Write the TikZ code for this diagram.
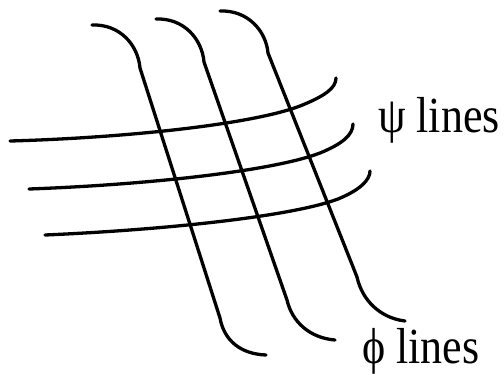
\documentclass[tikz,border=0pt]{standalone}
\usepackage{fontspec}
\setmainfont{Liberation Serif}
\begin{document}
\begin{tikzpicture}[x=1pt,y=-1pt,
  gridline/.style={line width=3.3pt,line cap=round,line join=round},
  label/.style={anchor=base west,inner sep=0pt,font=\fontsize{44}{50}\selectfont}]
\useasboundingbox (0,0) rectangle (504,373);
% phi lines
\draw[gridline] (92,25) .. controls (120,24) and (138,45) .. (140,68) -- (220,318)
  .. controls (224,340) and (240,354) .. (266,355);
\draw[gridline] (156,19) .. controls (184,18) and (202,39) .. (204,62) -- (287,300)
  .. controls (292,322) and (310,338) .. (335,340);
\draw[gridline] (220,11) .. controls (248,10) and (266,31) .. (268,53) -- (357,277)
  .. controls (362,300) and (380,318) .. (405,321);
% psi lines
\draw[gridline] (10,141) .. controls (120,138) and (250,125) .. (300,106)
  .. controls (325,96) and (336,88) .. (336,78);
\draw[gridline] (29,189) .. controls (140,185) and (270,172) .. (320,153)
  .. controls (342,144) and (353,135) .. (353,124);
\draw[gridline] (45,235) .. controls (160,230) and (290,217) .. (338,199)
  .. controls (360,190) and (370,180) .. (370,171);
% labels
\node[label] (psi) at (378,132) {\scalebox{1}[1.15]{ψ lines}};
\node[label] (phi) at (362,363) {\scalebox{1}[1.15]{ϕ lines}};
\end{tikzpicture}
\end{document}
